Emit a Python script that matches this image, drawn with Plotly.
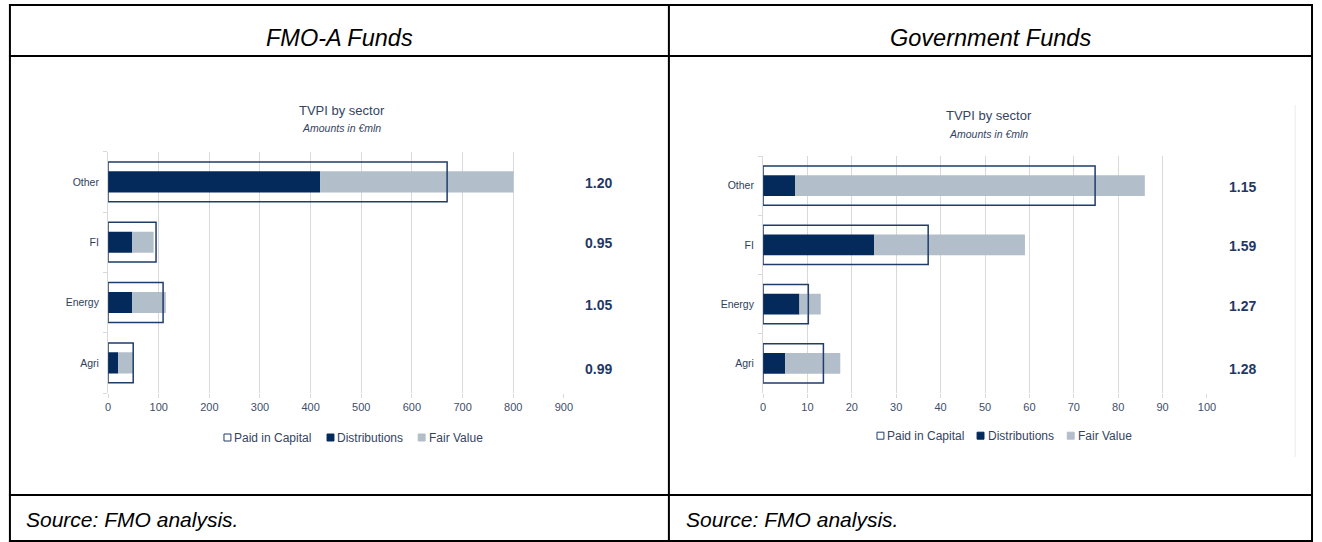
import plotly.graph_objects as go

W, H = 1322, 542

# ---------------- data ----------------
sectors = ["Agri", "Energy", "FI", "Other"]          # bottom -> top

fmo_paid_in = [49.7, 108.7, 94.8, 669.5]
fmo_distributions = [20.2, 47.4, 47.4, 419.0]
fmo_fair_value = [29.3, 66.6, 42.6, 381.8]
fmo_tvpi = ["0.99", "1.05", "0.95", "1.20"]

gov_paid_in = [13.6, 10.2, 37.2, 74.8]
gov_distributions = [5.0, 8.2, 25.0, 7.2]
gov_fair_value = [12.4, 4.8, 34.0, 78.8]
gov_tvpi = ["1.28", "1.27", "1.59", "1.15"]

fmo_ticks = list(range(0, 901, 100))
gov_ticks = list(range(0, 101, 10))

panel_titles = ["FMO-A Funds", "Government Funds"]
chart_title = "TVPI by sector"
chart_subtitle = "Amounts in €mln"
source_text = "Source: FMO analysis."
legend_names = ["Paid in Capital", "Distributions", "Fair Value"]

# ---------------- style ----------------
NAVY = "#032A5B"
GREY = "#B3BECB"
BOX = "#1F3D6B"
GRID = "#D9D9D9"
TICK_COL = "#3E4E6A"
TVPI_COL = "#1F3864"
FONT = "Liberation Sans, Arial, sans-serif"


def px(x):
    return x / W


def py(y):
    return 1 - y / H


fig = go.Figure()


def add_chart(xa, ya, paid, dist, fv):
    fig.add_trace(go.Bar(y=sectors, x=dist, orientation="h", width=0.35,
                         marker=dict(color=NAVY, line=dict(width=0)),
                         xaxis=xa, yaxis=ya, showlegend=False, hoverinfo="skip"))
    fig.add_trace(go.Bar(y=sectors, x=fv, base=dist, orientation="h", width=0.35,
                         marker=dict(color=GREY, line=dict(width=0)),
                         xaxis=xa, yaxis=ya, showlegend=False, hoverinfo="skip"))
    fig.add_trace(go.Bar(y=sectors, x=paid, orientation="h", width=0.66,
                         marker=dict(color="rgba(0,0,0,0)", line=dict(color=BOX, width=1.5)),
                         xaxis=xa, yaxis=ya, showlegend=False, hoverinfo="skip"))


add_chart("x", "y", fmo_paid_in, fmo_distributions, fmo_fair_value)
add_chart("x2", "y2", gov_paid_in, gov_distributions, gov_fair_value)

xcommon = dict(showgrid=True, gridcolor=GRID, gridwidth=1, zeroline=False,
               showline=False, ticks="outside", ticklen=4, tickcolor=GRID,
               tickfont=dict(family=FONT, size=11, color=TICK_COL), fixedrange=True)
ycommon = dict(type="category", categoryorder="array", categoryarray=sectors,
               range=[-0.5, 3.5], showgrid=False, zeroline=False,
               showline=True, linecolor=GRID, linewidth=1,
               ticks="outside", ticklen=4, tickcolor=GRID, tickson="boundaries",
               ticklabelstandoff=6,
               tickfont=dict(family=FONT, size=10.5, color="#2F3E5A"), fixedrange=True)

fig.update_layout(
    width=W, height=H,
    margin=dict(l=0, r=0, t=0, b=0),
    paper_bgcolor="white", plot_bgcolor="white",
    barmode="overlay",
    showlegend=False,
    xaxis=dict(domain=[px(106), px(566)], range=[0, 900], tickvals=fmo_ticks, anchor="y", **xcommon),
    yaxis=dict(domain=[py(393), py(151.7)], anchor="x", **ycommon),
    xaxis2=dict(domain=[px(767), px(1215)], range=[0, 100], tickvals=gov_ticks, anchor="y2", **xcommon),
    yaxis2=dict(domain=[py(393), py(156)], anchor="x2", **ycommon),
)

ann = []
shapes = []

# table frame
line = dict(color="black", width=2)
for x in (7, 672, 1321):
    shapes.append(dict(type="line", xref="paper", yref="paper", x0=px(x), x1=px(x), y0=py(5), y1=py(542), line=line))
for y in (5, 56, 495, 541):
    shapes.append(dict(type="line", xref="paper", yref="paper", x0=px(6), x1=px(1322), y0=py(y), y1=py(y), line=line))

# faint chart frame edge on the right panel
shapes.append(dict(type="line", xref="paper", yref="paper", x0=px(1304), x1=px(1304), y0=py(105), y1=py(457),
                   line=dict(color="#EBEBEB", width=1)))

# panel headers and sources
for cx, t in zip((339.5, 996.5), panel_titles):
    ann.append(dict(x=px(cx), y=py(38), xref="paper", yref="paper", text=f"<i>{t}</i>", showarrow=False,
                    font=dict(family=FONT, size=23.5, color="black"), xanchor="center", yanchor="middle"))
for sx in (21, 687):
    ann.append(dict(x=px(sx), y=py(519), xref="paper", yref="paper", text=f"<i>{source_text}</i>", showarrow=False,
                    font=dict(family=FONT, size=21, color="black"), xanchor="left", yanchor="middle"))

# chart titles
for cx, ty, sy in ((342, 110, 128), (995, 115.7, 134)):
    ann.append(dict(x=px(cx), y=py(ty), xref="paper", yref="paper", text=chart_title, showarrow=False,
                    font=dict(family=FONT, size=13, color="#34445F"), xanchor="center", yanchor="middle"))
    ann.append(dict(x=px(cx), y=py(sy), xref="paper", yref="paper", text=f"<i>{chart_subtitle}</i>", showarrow=False,
                    font=dict(family=FONT, size=10.5, color="#34445F"), xanchor="center", yanchor="middle"))

# TVPI values
shifts = [-6, -2, -1, -1]
for yref, lx, vals in (("y", 601, fmo_tvpi), ("y2", 1251, gov_tvpi)):
    for s, v, sh in zip(sectors, vals, shifts):
        ann.append(dict(x=px(lx), y=s, xref="paper", yref=yref, text=f"<b>{v}</b>", showarrow=False,
                        font=dict(family=FONT, size=14, color=TVPI_COL), xanchor="center", yanchor="middle",
                        yshift=sh))

# legends (swatch + label)
legend_styles = [dict(fill="white", line=BOX), dict(fill=NAVY, line=NAVY), dict(fill=GREY, line=GREY)]
for ly, starts in ((437.5, (223, 327, 419)), (435.7, (882, 983, 1074))):
    for name, st, x0 in zip(legend_names, legend_styles, starts):
        shapes.append(dict(type="rect", xref="paper", yref="paper",
                           x0=px(x0), x1=px(x0 + 7), y0=py(ly + 3.5), y1=py(ly - 3.5),
                           fillcolor=st["fill"], line=dict(color=st["line"], width=1)))
        ann.append(dict(x=px(x0 + 8.5), y=py(ly), xref="paper", yref="paper", text=name, showarrow=False,
                        font=dict(family=FONT, size=12, color="#34445F"), xanchor="left", yanchor="middle"))

fig.update_layout(annotations=ann, shapes=shapes)
fig.write_html("out.html")
